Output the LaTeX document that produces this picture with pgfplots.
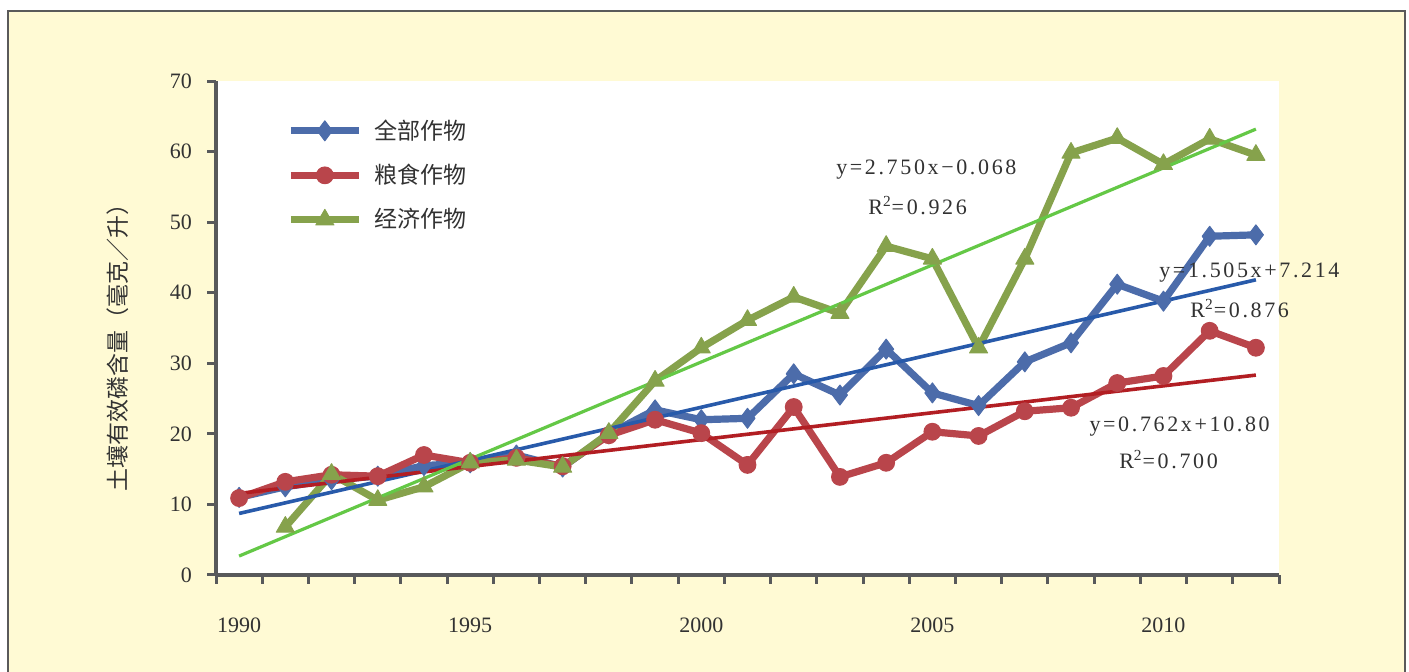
\documentclass[border=0pt]{standalone}
\usepackage{fontspec}
\usepackage{pgfplots}
\pgfplotsset{compat=1.18}
\setmainfont{Liberation Serif}
\newfontfamily\cjk{Noto Sans CJK SC}
\newfontfamily\eqfont[LetterSpace=12]{Liberation Serif}
\definecolor{bg}{RGB}{255,250,212}
\definecolor{framegray}{RGB}{90,90,90}
\definecolor{axisgray}{RGB}{88,89,91}
\definecolor{cblue}{RGB}{76,108,170}
\definecolor{cred}{RGB}{185,69,75}
\definecolor{cgreen}{RGB}{134,162,76}
\definecolor{tblue}{RGB}{40,90,170}
\definecolor{tred}{RGB}{178,30,35}
\definecolor{tgreen}{RGB}{100,200,70}
\definecolor{txt}{RGB}{50,50,50}
\begin{document}
\begin{tikzpicture}[x=1pt,y=1pt]
\useasboundingbox (0,0) rectangle (704.5,336);
\fill[white] (0,0) rectangle (704.5,336);
\fill[bg] (4,0) rectangle (702.5,330.5);
\draw[framegray, line width=0.8pt] (4,-1) -- (4,330.5) -- (702.5,330.5) -- (702.5,-1);
\begin{axis}[
  at={(108pt,48.5pt)}, anchor=south west, scale only axis,
  width=531.5pt, height=247pt,
  xmin=1989.5, xmax=2012.5, ymin=0, ymax=70,
  clip=false,
  axis x line*=bottom, axis y line*=left,
  axis line style={-, draw=axisgray, line width=1.6pt},
  axis background/.style={fill=white},
  xtick={1989.5,1990.5,1991.5,1992.5,1993.5,1994.5,1995.5,1996.5,1997.5,1998.5,1999.5,2000.5,2001.5,2002.5,2003.5,2004.5,2005.5,2006.5,2007.5,2008.5,2009.5,2010.5,2011.5,2012.5},
  xticklabels={},
  extra x ticks={1990,1995,2000,2005,2010},
  extra x tick labels={1990,1995,2000,2005,2010},
  extra x tick style={major tick length=0pt, xticklabel style={yshift=-18pt}},
  ytick={0,10,20,30,40,50,60,70},
  tick align=outside, major tick length=4.5pt,
  every tick/.style={axisgray, line width=1.5pt},
  tick label style={font=\fontsize{11}{13}\selectfont, text=txt},
  yticklabel style={xshift=-4pt},
  /pgf/number format/assume math mode=true,
  legend style={at={(rel axis cs:0.061,0.939)}, anchor=north west, draw=none, fill=none,
    font=\cjk\fontsize{11.5}{13}\selectfont, text=txt, row sep=7pt, cells={anchor=west},
    /tikz/every odd column/.append style={column sep=4pt}},
  legend cell align=left,
  legend image code/.code={\draw[mark repeat=2,mark phase=2,#1] plot coordinates {(0pt,0pt) (17pt,0pt) (34pt,0pt)};},
]
% all crops
\addplot[cblue, line width=3.6pt, line join=round, mark=diamond*, mark size=5pt,
  mark options={solid, fill=cblue, line width=0.5pt}] coordinates {
  (1990,11.0) (1991,12.5) (1992,13.5) (1993,14.0) (1994,15.5) (1995,15.9)
  (1996,17.0) (1997,15.3) (1998,20.0) (1999,23.4) (2000,22.0) (2001,22.2)
  (2002,28.5) (2003,25.5) (2004,32.0) (2005,25.8) (2006,24.0) (2007,30.2)
  (2008,32.9) (2009,41.2) (2010,38.8) (2011,48.0) (2012,48.2)};
\addlegendentry{全部作物}
% grain crops
\addplot[cred, line width=3.6pt, line join=round, mark=*, mark size=4.2pt,
  mark options={solid, fill=cred, line width=0.5pt}] coordinates {
  (1990,10.9) (1991,13.2) (1992,14.2) (1993,14.0) (1994,17.0) (1995,15.9)
  (1996,16.6) (1997,15.4) (1998,19.8) (1999,22.0) (2000,20.1) (2001,15.6)
  (2002,23.8) (2003,13.9) (2004,15.9) (2005,20.3) (2006,19.7) (2007,23.2)
  (2008,23.7) (2009,27.2) (2010,28.2) (2011,34.6) (2012,32.2)};
\addlegendentry{粮食作物}
% cash crops
\addplot[cgreen, line width=3.6pt, line join=round, mark=triangle*, mark size=5.2pt,
  mark options={solid, fill=cgreen, line width=0.5pt}] coordinates {
  (1991,6.8) (1992,14.3) (1993,10.6) (1994,12.5) (1995,15.9)
  (1996,16.3) (1997,15.3) (1998,20.1) (1999,27.5) (2000,32.2) (2001,36.1)
  (2002,39.4) (2003,37.1) (2004,46.6) (2005,44.8) (2006,32.2) (2007,44.8)
  (2008,59.8) (2009,61.9) (2010,58.2) (2011,61.8) (2012,59.5)};
\addlegendentry{经济作物}
% linear trends, x = 1 for 1990
\addplot[tblue, line width=1.8pt, forget plot] coordinates {(1990,8.719) (2012,41.829)};
\addplot[tred, line width=1.8pt, forget plot] coordinates {(1990,11.562) (2012,28.326)};
\addplot[tgreen, line width=1.6pt, forget plot] coordinates {(1990,2.682) (2012,63.182)};
\begin{scope}[every node/.style={font=\eqfont\fontsize{11}{13}\selectfont, text=txt}]
\node at (axis cs:2004.87,57.4) {y=2.750x−0.068};
\node at (axis cs:2004.68,52.4) {R\textsuperscript{2}=0.926};
\node at (axis cs:2011.86,42.8) {y=1.505x+7.214};
\node at (axis cs:2011.65,37.8) {R\textsuperscript{2}=0.876};
\node at (axis cs:2010.35,21.1) {y=0.762x+10.80};
\node at (axis cs:2010.11,16.3) {R\textsuperscript{2}=0.700};
\end{scope}
\node[rotate=90, font=\cjk\fontsize{11.5}{13}\selectfont, text=txt] at (rel axis cs:-0.092,0.472) {土壤有效磷含量（毫克／升）};
\end{axis}
\end{tikzpicture}
\end{document}
